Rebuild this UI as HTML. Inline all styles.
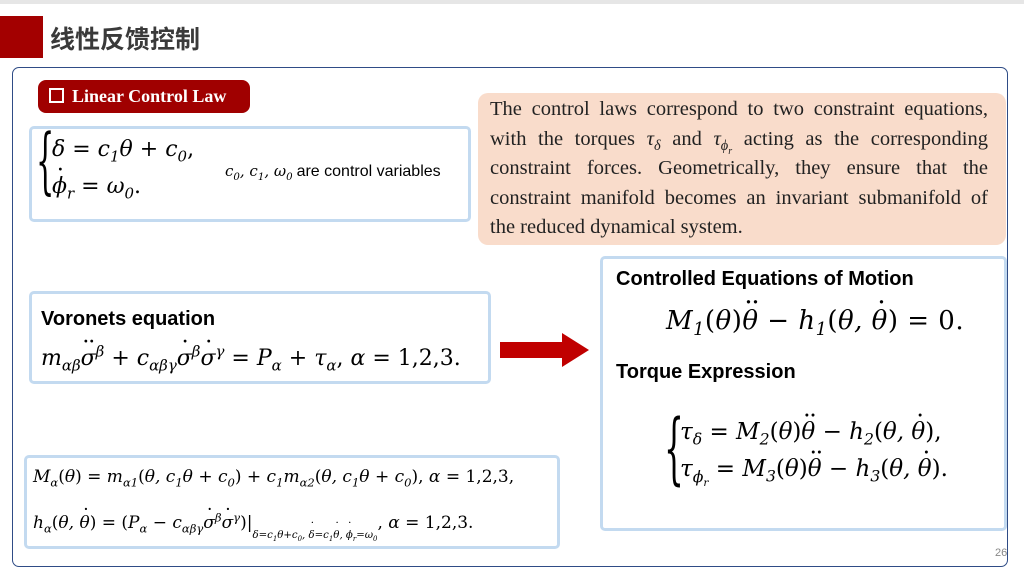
<!DOCTYPE html>
<html><head><meta charset="utf-8"><style>
body{margin:0;width:1024px;height:572px;position:relative;background:#fff;overflow:hidden;font-family:"Liberation Serif",serif}
.a{position:absolute}
.box{position:absolute;border:3px solid #c3daf0;border-radius:5px;background:#fff;box-sizing:border-box}
.m{font-family:"DejaVu Serif",serif;font-style:italic;white-space:nowrap;line-height:1}
.m i{font-style:normal}
.s{font-family:"Liberation Sans","DejaVu Sans",sans-serif;font-weight:bold;white-space:nowrap}
sub,sup{font-size:68%;line-height:0}
.p sub{font-size:70%}
.d,.dd{position:relative}
.d::before{content:"·";position:absolute;left:0.22em;top:-0.62em;font-style:normal}
.dd::before{content:"··";position:absolute;left:0.08em;top:-0.62em;font-style:normal;letter-spacing:-0.05em}
</style></head><body>
<div class="a" style="left:0;top:0;width:1024px;height:4px;background:#e6e6e6"></div>
<div class="a" style="left:0;top:16px;width:43px;height:42px;background:#a30000"></div>
<div class="a" style="left:50px;top:20px;font:bold 25px 'Noto Sans CJK SC',sans-serif;color:#3a3a3a">线性反馈控制</div>
<div class="a" style="left:12px;top:67px;width:996px;height:500px;border:1.5px solid #2f4c86;border-radius:7px;box-sizing:border-box"></div>
<div class="a" style="left:38px;top:80px;width:212px;height:33px;background:#a00000;border-radius:8px;color:#fff;font:bold 18px 'Liberation Serif',serif;line-height:33px;padding-left:11px;box-sizing:border-box"><span style="display:inline-block;width:11px;height:11px;border:2px solid #fff;margin-right:8px;vertical-align:-1px"></span>Linear Control Law</div>
<div class="box" style="left:29px;top:126px;width:442px;height:96px"></div>
<div class="a" style="left:36px;top:124px;font-size:72px;font-family:'DejaVu Serif',serif;transform:scaleX(0.4);transform-origin:left;line-height:1">{</div>
<div class="a m" style="left:52px;top:139px;font-size:22px">δ <i>=</i> c<sub>1</sub>θ <i>+</i> c<sub>0</sub><i>,</i></div>
<div class="a m" style="left:52px;top:176px;font-size:22px"><span class="d">ϕ</span><sub>r</sub> <i>=</i> ω<sub>0</sub><i>.</i></div>
<div class="a" style="left:225px;top:163px;font-size:16px;white-space:nowrap"><span class="m" style="font-size:15px">c<sub>0</sub>, c<sub>1</sub>, ω<sub>0</sub></span> <span style="font-family:'Liberation Sans',sans-serif">are control variables</span></div>
<div class="a p" style="left:478px;top:93px;width:528px;height:152px;background:#f9dccb;border-radius:10px;box-sizing:border-box;padding:2px 18px 0 12px;font-size:20.5px;line-height:29.5px;text-align:justify;color:#222">The control laws correspond to two constraint equations, with the torques <i>τ<sub>δ</sub></i> and <i>τ<sub>ϕ<sub>r</sub></sub></i> acting as the corresponding constraint forces. Geometrically, they ensure that the constraint manifold becomes an invariant submanifold of the reduced dynamical system.</div>
<div class="box" style="left:29px;top:291px;width:462px;height:93px"></div>
<div class="a s" style="left:41px;top:308px;font-size:20px">Voronets equation</div>
<div class="a m" style="left:41px;top:348px;font-size:22px">m<sub>αβ</sub><span class="dd">σ</span><sup>β</sup> <i>+</i> c<sub>αβγ</sub><span class="d">σ</span><sup>β</sup><span class="d">σ</span><sup>γ</sup> <i>=</i> P<sub>α</sub> <i>+</i> τ<sub>α</sub><i>,</i>  α <i>= 1,2,3.</i></div>
<svg class="a" style="left:500px;top:333px" width="90" height="34"><polygon points="0,9 62,9 62,0 89,17 62,34 62,25 0,25" fill="#c00000"/></svg>
<div class="box" style="left:600px;top:256px;width:407px;height:275px"></div>
<div class="a s" style="left:616px;top:268px;font-size:20px">Controlled Equations of Motion</div>
<div class="a m" style="left:666px;top:308px;font-size:26px;letter-spacing:0.5px">M<sub>1</sub><i>(</i>θ<i>)</i><span class="dd">θ</span> <i>−</i> h<sub>1</sub><i>(</i>θ, <span class="d">θ</span><i>) = 0.</i></div>
<div class="a s" style="left:616px;top:361px;font-size:20px">Torque Expression</div>
<div class="a" style="left:664px;top:410px;font-size:78px;font-family:'DejaVu Serif',serif;transform:scaleX(0.4);transform-origin:left;line-height:1">{</div>
<div class="a m" style="left:680px;top:421px;font-size:23px">τ<sub>δ</sub> <i>=</i> M<sub>2</sub><i>(</i>θ<i>)</i><span class="dd">θ</span> <i>−</i> h<sub>2</sub><i>(</i>θ, <span class="d">θ</span><i>),</i></div>
<div class="a m" style="left:680px;top:458px;font-size:23px">τ<sub>ϕ<sub>r</sub></sub> <i>=</i> M<sub>3</sub><i>(</i>θ<i>)</i><span class="dd">θ</span> <i>−</i> h<sub>3</sub><i>(</i>θ, <span class="d">θ</span><i>).</i></div>
<div class="box" style="left:24px;top:455px;width:536px;height:94px"></div>
<div class="a m" style="left:33px;top:469px;font-size:17px">M<sub>α</sub><i>(</i>θ<i>) =</i> m<sub>α1</sub><i>(</i>θ, c<sub>1</sub>θ <i>+</i> c<sub>0</sub><i>) +</i> c<sub>1</sub>m<sub>α2</sub><i>(</i>θ, c<sub>1</sub>θ <i>+</i> c<sub>0</sub><i>),</i>  α <i>= 1,2,3,</i></div>
<div class="a m" style="left:33px;top:515px;font-size:17px">h<sub>α</sub><i>(</i>θ, <span class="d">θ</span><i>) = (</i>P<sub>α</sub> <i>−</i> c<sub>αβγ</sub><span class="d">σ</span><sup>β</sup><span class="d">σ</span><sup>γ</sup><i>)|</i><sub style="vertical-align:-10px;font-size:60%">δ=c<sub>1</sub>θ+c<sub>0</sub>, <span class="d">δ</span>=c<sub>1</sub><span class="d">θ</span>, <span class="d">ϕ</span><sub>r</sub>=ω<sub>0</sub></sub><i>,</i>  α <i>= 1,2,3.</i></div>
<div class="a" style="left:995px;top:547px;font:11px 'Liberation Sans',sans-serif;color:#888">26</div>
</body></html>
